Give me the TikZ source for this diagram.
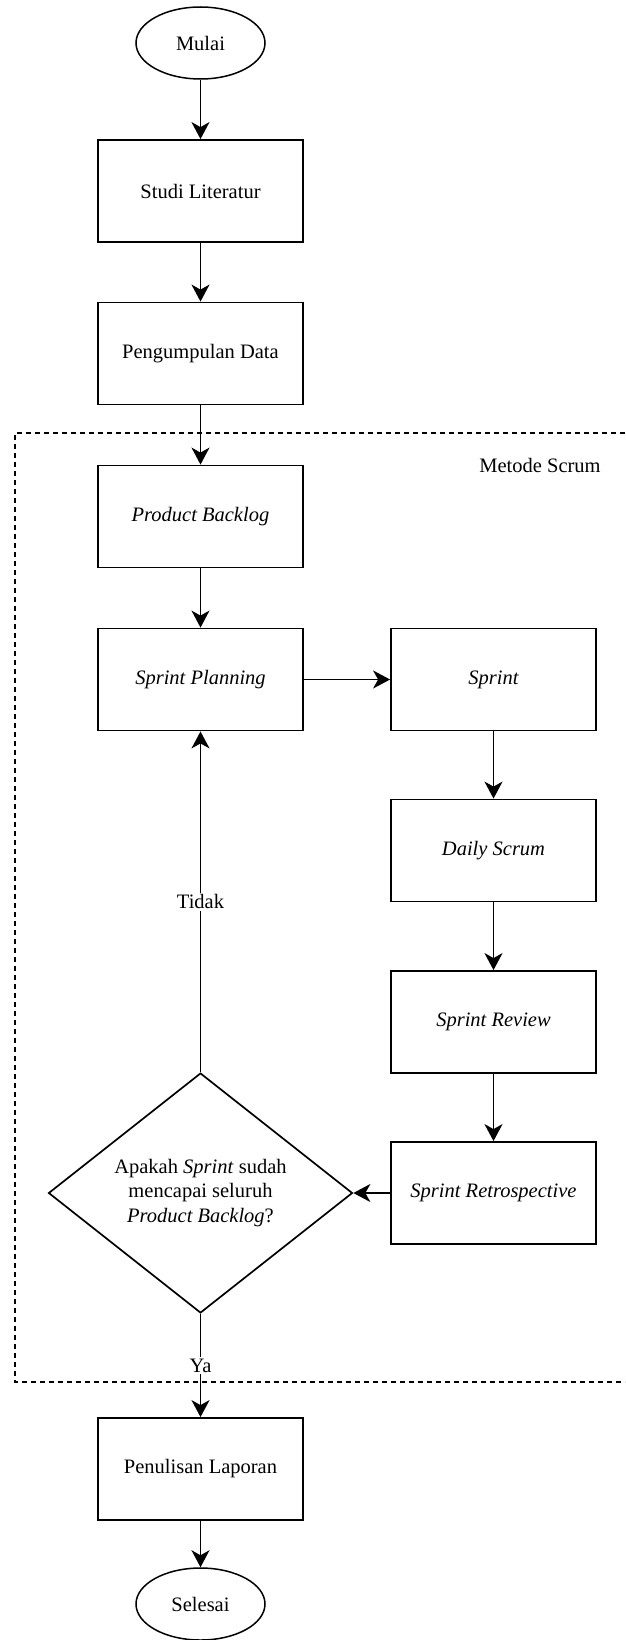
\documentclass[tikz,border=0pt]{standalone}
\usepackage{fontspec}
\setmainfont{Liberation Serif}
\usetikzlibrary{arrows.meta,shapes.geometric}
\tikzset{
  flowline/.style={line width=1.8pt, -{Stealth[length=17pt, width=18pt, inset=5pt]}},
  stepbox/.style={draw, line width=1.8pt, rectangle, minimum width=205pt, minimum height=102pt, inner sep=0pt, align=center},
  terminal/.style={draw, line width=1.5pt, ellipse, minimum width=129pt, minimum height=72pt, inner sep=0pt},
  decision/.style={draw, line width=1.7pt, diamond, minimum width=304pt, minimum height=193pt, inner sep=0pt, align=center},
  edgelabel/.style={fill=white, inner sep=2pt},
  groupframe/.style={line width=1.3pt, dash pattern=on 5pt off 4pt}
}
\begin{document}
\begin{tikzpicture}[x=1pt, y=-1pt, font=\fontsize{20.5}{24.5}\selectfont]
\useasboundingbox (0,0) rectangle (625,1640);

% Scrum group frame (open on the right)
\draw[groupframe] (625,433) -- (15,433) -- (15,1382) -- (625,1382);
\node (grouplabel) at (540,465) {Metode Scrum};

% Main column
\node[terminal] (mulai) at (200.5,43) {Mulai};
\node[stepbox] (studi) at (200.5,191) {Studi Literatur};
\node[stepbox] (data) at (200.5,353.5) {Pengumpulan Data};
\node[stepbox] (backlog) at (200.5,516.5) {\itshape Product Backlog};
\node[stepbox] (planning) at (200.5,679.5) {\itshape Sprint Planning};

% Sprint column
\node[stepbox] (sprint) at (493.5,679.5) {\itshape Sprint};
\node[stepbox] (daily) at (493.5,850.5) {\itshape Daily Scrum};
\node[stepbox] (review) at (493.5,1022) {\itshape Sprint Review};
\node[stepbox] (retro) at (493.5,1193) {\itshape Sprint Retrospective};

% Decision and closing steps
\node[decision] (cek) at (200.5,1193) {Apakah \textit{Sprint} sudah\\mencapai seluruh\\\textit{Product Backlog}?};
\node[stepbox] (laporan) at (200.5,1469) {Penulisan Laporan};
\node[terminal] (selesai) at (200.5,1604) {Selesai};

% Connectors
\draw[flowline] (mulai) -- (studi);
\draw[flowline] (studi) -- (data);
\draw[flowline] (data) -- (backlog);
\draw[flowline] (backlog) -- (planning);
\draw[flowline] (planning) -- (sprint);
\draw[flowline] (sprint) -- (daily);
\draw[flowline] (daily) -- (review);
\draw[flowline] (review) -- (retro);
\draw[flowline] (retro) -- (cek.east);
\draw[flowline] (cek.north) -- node[edgelabel, pos=0.5] {Tidak} (planning.south);
\draw[flowline] (cek.south) -- node[edgelabel, pos=0.5] {Ya} (laporan.north);
\draw[flowline] (laporan) -- (selesai);
\end{tikzpicture}
\end{document}
